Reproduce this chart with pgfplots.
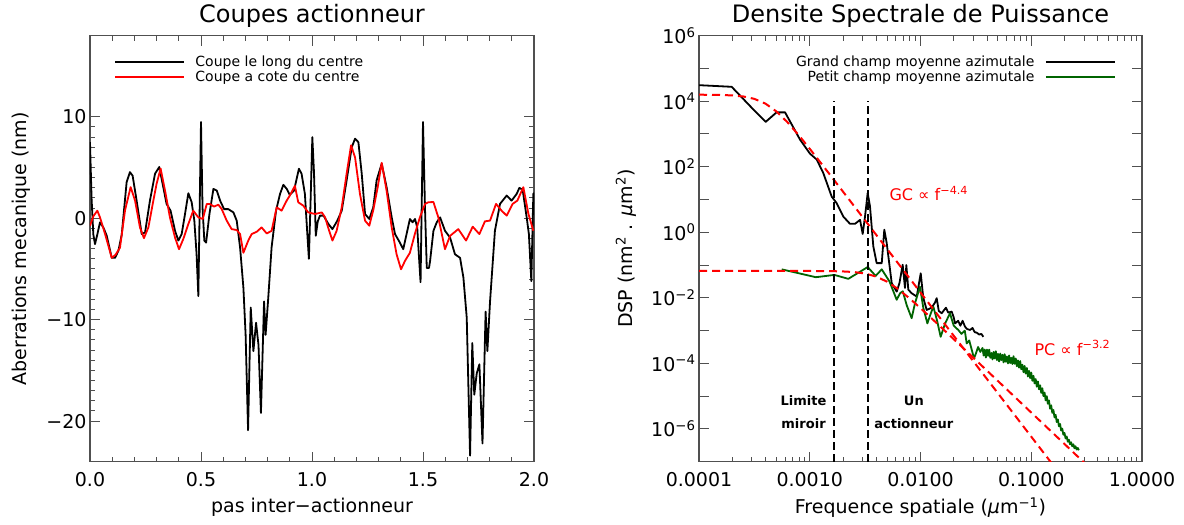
\documentclass[border=0pt]{standalone}
\usepackage{fontspec}
\setmainfont{DejaVu Sans}
\usepackage{pgfplots}
\pgfplotsset{compat=1.18}
\usepackage{pgfplotstable}
\definecolor{dgreen}{RGB}{0,100,0}
\definecolor{axgray}{RGB}{80,80,80}

\pgfplotstableread{
x y
0.000 7.5
0.007 2.0
0.015 -1.6
0.0225 -2.55
0.033 -1.6
0.045 -0.4
0.060 -0.9
0.075 -1.7
0.098 -3.9
0.113 -3.9
0.128 -3.2
0.143 -1.6
0.165 3.56
0.180 4.55
0.192 4.2
0.210 1.74
0.233 -1.56
0.248 -1.4
0.270 1.74
0.293 4.4
0.312 5.05
0.330 3.07
0.345 1.41
0.363 0.75
0.383 -1.23
0.398 -2.2
0.413 -1.56
0.428 0.42
0.443 2.47
0.458 1.58
0.470 -0.24
0.480 -3.5
0.488 -7.67
0.494 1.0
0.500 9.5
0.507 1.0
0.515 -2.2
0.523 -2.4
0.538 0.42
0.556 2.9
0.571 2.73
0.586 1.74
0.604 0.9
0.623 0.9
0.646 0.58
0.661 -0.24
0.676 -2.87
0.691 -6.85
0.701 -11.5
0.712 -20.9
0.724 -8.8
0.736 -13.1
0.748 -10.3
0.759 -12.5
0.770 -19.2
0.784 -8.2
0.791 -11.5
0.803 -7.84
0.818 -2.87
0.838 0.75
0.856 2.4
0.871 3.3
0.886 2.9
0.900 2.3
0.919 2.73
0.941 4.88
0.953 4.4
0.968 2.4
0.979 -1.56
0.986 -4.0
0.994 2.0
1.0015 8.0
1.009 4.5
1.017 -1.73
1.026 -0.3
1.036 0.26
1.052 0.26
1.074 -0.57
1.092 -1.07
1.114 -0.24
1.134 0.75
1.156 3.73
1.179 7.0
1.194 7.85
1.209 7.5
1.224 4.4
1.239 0.42
1.258 -0.07
1.276 1.08
1.291 3.73
1.314 5.38
1.336 3.07
1.359 0.09
1.374 -1.56
1.396 -2.4
1.411 -3.05
1.426 -1.56
1.441 -0.07
1.453 -0.4
1.464 -0.07
1.474 -0.9
1.483 -4.2
1.489 -6.3
1.494 1.0
1.500 9.5
1.509 1.0
1.517 -4.9
1.527 -4.9
1.532 -4.2
1.547 -1.23
1.562 -0.4
1.577 0.09
1.599 -1.23
1.622 -1.9
1.644 -3.55
1.667 -3.9
1.682 -5.85
1.697 -9.8
1.712 -23.4
1.722 -12.3
1.731 -17.4
1.742 -15.3
1.754 -14.4
1.768 -22.2
1.782 -9.2
1.790 -13.1
1.802 -8.2
1.824 -1.23
1.847 1.42
1.877 2.24
1.899 1.74
1.922 2.4
1.934 3.0
1.949 2.8
1.967 0.09
1.977 -1.56
1.988 -6.2
1.997 2.4
2.000 2.5
}\coupeA

\pgfplotstableread{
x y
0.000 -0.73
0.015 0.2
0.033 0.75
0.045 0.09
0.068 -1.56
0.098 -3.9
0.115 -3.6
0.135 -2.9
0.158 0.8
0.183 3.07
0.203 1.74
0.225 -0.9
0.243 -1.96
0.263 -0.9
0.285 1.7
0.300 3.4
0.318 4.9
0.338 2.73
0.360 0.09
0.383 -1.9
0.401 -3.05
0.420 -2.06
0.443 -0.57
0.465 0.75
0.488 0.09
0.508 -0.07
0.526 1.41
0.540 1.41
0.559 1.15
0.578 1.34
0.593 0.92
0.616 -0.24
0.638 -1.07
0.661 -1.16
0.676 -1.56
0.691 -3.4
0.713 -2.2
0.728 -1.56
0.751 -1.33
0.773 -0.9
0.796 -1.5
0.818 -1.24
0.841 1.08
0.863 0.75
0.886 1.74
0.900 2.24
0.923 3.2
0.938 1.58
0.961 1.24
0.983 0.58
1.014 0.42
1.044 0.58
1.059 0.09
1.074 -1.0
1.092 -2.2
1.111 -1.24
1.134 1.08
1.156 4.4
1.176 7.2
1.194 6.0
1.216 2.4
1.239 -0.24
1.258 -0.73
1.276 0.8
1.296 3.07
1.314 5.47
1.336 2.73
1.359 -0.9
1.381 -3.55
1.401 -5.03
1.419 -4.2
1.441 -3.4
1.464 -1.5
1.486 0.09
1.509 1.41
1.524 1.58
1.547 1.6
1.569 0.09
1.599 -3.05
1.622 -1.73
1.659 -1.07
1.694 -2.2
1.724 -0.83
1.754 -1.56
1.779 -0.3
1.802 -0.23
1.829 1.42
1.854 0.75
1.877 0.26
1.904 1.42
1.925 1.74
1.952 3.06
1.975 0.42
1.997 -1.23
}\coupeB

% right panel: log10(f), log10(DSP)
\pgfplotstableread{
lf lp
-4.000 4.49
-3.705 4.44
-3.524 3.80
-3.398 3.37
-3.300 3.66
-3.223 3.66
-3.088 2.83
-2.998 2.40
-2.937 2.22
-2.878 1.81
-2.802 1.09
-2.757 0.89
-2.697 0.48
-2.637 0.26
-2.591 0.26
-2.546 0.38
-2.522 -0.05
-2.501 0.48
-2.477 1.20
-2.456 0.79
-2.426 -0.43
-2.396 -0.94
-2.350 -0.94
-2.327 0.08
-2.305 -0.33
-2.260 -1.55
-2.215 -1.81
-2.190 -1.55
-2.161 -0.99
-2.140 -1.70
-2.128 -1.00
-2.110 -1.75
-2.080 -1.86
-2.034 -1.96
-1.998 -1.25
-1.975 -2.00
-1.944 -2.37
-1.900 -2.30
-1.870 -2.15
-1.854 -2.01
-1.835 -2.40
-1.809 -2.47
-1.770 -2.30
-1.750 -2.45
-1.718 -2.42
-1.700 -2.60
-1.688 -2.78
-1.660 -2.70
-1.640 -2.85
-1.620 -2.70
-1.598 -2.88
-1.580 -2.95
-1.553 -2.98
-1.530 -2.92
-1.510 -3.05
-1.493 -3.06
-1.470 -3.12
-1.450 -3.10
-1.433 -3.19
}\grandchamp

\pgfplotstableread{
lf lp
-3.253 -1.13
-2.945 -1.37
-2.778 -1.30
-2.652 -1.42
-2.477 -1.06
-2.405 -1.33
-2.350 -1.13
-2.280 -1.50
-2.215 -2.06
-2.185 -1.86
-2.160 -1.80
-2.125 -2.22
-2.080 -2.62
-2.050 -2.17
-2.005 -1.66
-1.975 -2.30
-1.938 -2.78
-1.910 -2.50
-1.884 -2.27
-1.850 -2.70
-1.818 -3.19
-1.780 -2.80
-1.734 -2.47
-1.700 -2.85
-1.659 -2.98
-1.630 -3.10
-1.600 -3.00
-1.583 -3.39
-1.560 -3.30
-1.540 -3.55
-1.517 -3.85
-1.500 -3.70
-1.480 -3.50
-1.460 -3.65
-1.44 -3.53
-1.43 -3.76
-1.42 -3.58
-1.41 -3.82
-1.40 -3.58
-1.39 -3.77
-1.38 -3.58
-1.37 -3.83
-1.36 -3.68
-1.35 -3.88
-1.34 -3.65
-1.33 -3.85
-1.32 -3.63
-1.31 -3.90
-1.30 -3.71
-1.29 -3.94
-1.28 -3.70
-1.27 -3.90
-1.26 -3.74
-1.25 -3.97
-1.24 -3.72
-1.23 -3.95
-1.22 -3.79
-1.21 -4.00
-1.20 -3.76
-1.19 -3.99
-1.18 -3.83
-1.17 -4.02
-1.16 -3.78
-1.15 -4.01
-1.14 -3.85
-1.13 -4.09
-1.12 -3.91
-1.11 -4.13
-1.10 -3.93
-1.09 -4.18
-1.08 -4.04
-1.07 -4.27
-1.06 -4.08
-1.05 -4.31
-1.04 -4.14
-1.03 -4.40
-1.02 -4.23
-1.01 -4.45
-1.00 -4.28
-0.99 -4.53
-0.98 -4.38
-0.97 -4.61
-0.96 -4.48
-0.95 -4.71
-0.94 -4.55
-0.93 -4.79
-0.92 -4.67
-0.91 -4.90
-0.90 -4.76
-0.89 -5.00
-0.88 -4.89
-0.87 -5.13
-0.86 -5.00
-0.85 -5.23
-0.84 -5.13
-0.83 -5.38
-0.82 -5.28
-0.81 -5.51
-0.80 -5.42
-0.79 -5.65
-0.78 -5.57
-0.77 -5.79
-0.76 -5.71
-0.75 -5.92
-0.74 -5.85
-0.73 -6.05
-0.72 -5.99
-0.71 -6.18
-0.70 -6.12
-0.69 -6.29
-0.68 -6.23
-0.67 -6.39
-0.66 -6.33
-0.65 -6.47
-0.64 -6.41
-0.63 -6.53
-0.62 -6.47
-0.61 -6.59
-0.60 -6.53
-0.59 -6.63
-0.58 -6.58
-0.57 -6.65
}\petitchamp

\pgfplotstableread{
lf lp
-4.0 4.199
-3.9 4.196
-3.8 4.191
-3.7 4.177
-3.6 4.145
-3.5 4.072
-3.4 3.927
-3.3 3.685
-3.2 3.354
-3.1 2.966
-3.0 2.548
-2.9 2.117
-2.8 1.681
-2.7 1.242
-2.6 0.803
-2.5 0.363
-0.8 -7.116
}\fitGC

\pgfplotstableread{
lf lp
-4.0 -1.180
-3.0 -1.180
-2.9 -1.182
-2.8 -1.185
-2.7 -1.194
-2.6 -1.213
-2.5 -1.258
-2.4 -1.350
-2.3 -1.510
-2.2 -1.738
-2.1 -2.013
-2.0 -2.314
-1.9 -2.626
-1.8 -2.942
-1.7 -3.261
-0.5 -7.100
}\fitPC

\newcommand{\tfont}{\fontsize{24}{26}\selectfont}
\newcommand{\lfont}{\fontsize{19}{22}\selectfont}
\newcommand{\kfont}{\fontsize{19}{19}\selectfont}
\newcommand{\gfont}{\fontsize{14}{15}\selectfont}

\pgfplotsset{
  idl/.style={
    scale only axis,
    height=426pt,
    axis line style={axgray, line width=1.2pt},
    tick style={axgray, line width=1pt},
    major tick length=10pt,
    minor tick length=5pt,
    tick align=inside,
    every tick label/.append style={font=\kfont},
    title style={font=\tfont, yshift=-1pt},
    label style={font=\lfont},
    legend style={draw=none, fill=none, font=\gfont, inner sep=0pt,
      row sep=0pt, nodes={inner sep=1.5pt}},
    every axis plot/.append style={line join=round},
  },
}

\begin{document}
\begin{tikzpicture}
\useasboundingbox (0pt,0pt) rectangle (1184pt,525pt);

\begin{axis}[idl,
  at={(90pt,63.3pt)}, anchor=south west, width=444pt,
  xmin=0, xmax=2, ymin=-24, ymax=18,
  xtick={0,0.5,1,1.5,2}, xticklabels={0.0,0.5,1.0,1.5,2.0},
  minor x tick num=4,
  ytick={-20,-10,0,10}, yticklabels={−20,−10,0,10},
  minor y tick num=9,
  xticklabel style={yshift=-7pt},
  title={Coupes actionneur},
  xlabel={pas inter−actionneur},
  ylabel={Aberrations mecanique (nm)},
  xlabel style={at={(axis description cs:0.5,0)}, anchor=center, yshift=-46pt},
  ylabel style={at={(axis description cs:-0.155,0.5)}, anchor=center},
  legend style={at={(axis description cs:0.054,0.957)}, anchor=north west},
  legend cell align=left,
  legend image code/.code={\draw[#1] (0pt,0pt) -- (69pt,0pt); \path (78pt,0pt);},
]
\addplot[black, line width=1.8pt] table[x=x,y=y] {\coupeA};
\addlegendentry{Coupe le long du centre}
\addplot[red, line width=1.8pt] table[x=x,y=y] {\coupeB};
\addlegendentry{Coupe a cote du centre}
\end{axis}

\begin{axis}[idl,
  at={(699pt,63.3pt)}, anchor=south west, width=443pt,
  xmin=-4, xmax=0, ymin=-7, ymax=6,
  xtick={-4,-3,-2,-1,0},
  xticklabels={0.0001,0.0010,0.0100,0.1000,1.0000},
  minor xtick={-3.699,-3.523,-3.398,-3.301,-3.222,-3.155,-3.097,-3.046,
    -2.699,-2.523,-2.398,-2.301,-2.222,-2.155,-2.097,-2.046,
    -1.699,-1.523,-1.398,-1.301,-1.222,-1.155,-1.097,-1.046,
    -0.699,-0.523,-0.398,-0.301,-0.222,-0.155,-0.097,-0.046},
  ytick={-7,-6,-5,-4,-3,-2,-1,0,1,2,3,4,5,6},
  yticklabels={{},10\textsuperscript{−6},{},10\textsuperscript{−4},{},10\textsuperscript{−2},{},10\textsuperscript{0},{},10\textsuperscript{2},{},10\textsuperscript{4},{},10\textsuperscript{6}},
  xticklabel style={yshift=-7pt},
  title={Densite Spectrale de Puissance},
  xlabel={Frequence spatiale (\textit{μ}m\textsuperscript{−1})},
  ylabel={DSP (nm\textsuperscript{2} . \textit{μ}m\textsuperscript{2})},
  xlabel style={at={(axis description cs:0.5,0)}, anchor=center, yshift=-46pt},
  ylabel style={at={(axis description cs:-0.165,0.5)}, anchor=center},
  legend style={at={(axis description cs:0.941,0.957)}, anchor=north east},
  legend cell align=right,
  legend plot pos=right,
  legend image code/.code={\path (-9pt,0pt); \draw[#1] (0pt,0pt) -- (69pt,0pt);},
]
\addplot[black, line width=1.8pt] table[x=lf, y=lp] {\grandchamp};
\addlegendentry{Grand champ moyenne azimutale}
\addplot[dgreen, line width=1.8pt] table[x=lf, y=lp] {\petitchamp};
\addlegendentry{Petit champ moyenne azimutale}
\addplot[red, line width=2pt, dash pattern=on 8pt off 5pt, forget plot] table[x=lf, y=lp] {\fitGC};
\addplot[red, line width=2pt, dash pattern=on 8pt off 5pt, forget plot] table[x=lf, y=lp] {\fitPC};
\addplot[black, line width=1.8pt, dash pattern=on 8pt off 4pt, forget plot] coordinates {(-2.778,-7) (-2.778,4)};
\addplot[black, line width=1.8pt, dash pattern=on 8pt off 4pt, forget plot] coordinates {(-2.477,-7) (-2.477,4)};
\node[anchor=west, text=red, font=\fontsize{16}{16}\selectfont] at (axis cs:-2.311,1.18) {GC ∝ f\textsuperscript{−4.4}};
\node[anchor=west, text=red, font=\fontsize{16}{16}\selectfont] at (axis cs:-1.002,-3.53) {PC ∝ f\textsuperscript{−3.2}};
\node[align=center, font=\fontsize{13}{23}\selectfont\bfseries] at (axis cs:-3.056,-5.50) {Limite\\miroir};
\node[align=center, font=\fontsize{13}{23}\selectfont\bfseries] at (axis cs:-2.06,-5.50) {Un\\actionneur};
\end{axis}
\end{tikzpicture}
\end{document}
